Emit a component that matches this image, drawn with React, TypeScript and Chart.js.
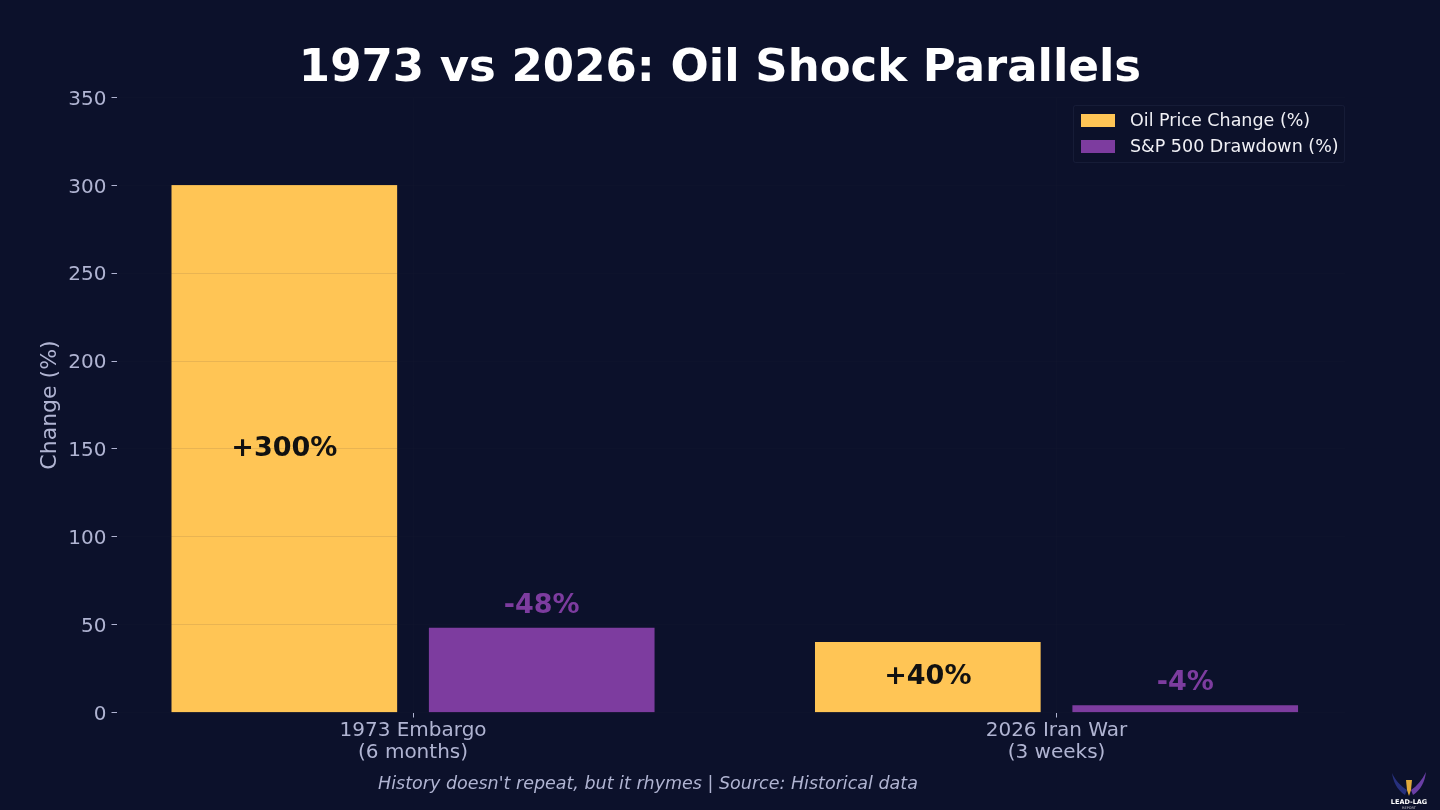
import { useEffect, useRef } from "react";
import { Chart, registerables } from "chart.js";

Chart.register(...registerables);

const categories = [["1973 Embargo", "(6 months)"], ["2026 Iran War", "(3 weeks)"]];
const oilChange = [300, 40];
const spDrawdown = [48, 4];
const oilLabels = ["+300%", "+40%"];
const spLabels = ["-48%", "-4%"];
const yTicks = [0, 50, 100, 150, 200, 250, 300, 350];

const BG = "#0c112b";
const GOLD = "#ffc555";
const PURPLE = "#7d3c9f";
const MUTED = "#b0b4d2";
const GRID = "rgba(40,44,60,0.1)";
const FONT = "'DejaVu Sans', sans-serif";

// small overlay: title, legend box, value labels and source line
const annotations = {
  id: "annotations",
  afterDatasetsDraw(chart: any) {
    const { ctx } = chart;
    ctx.save();
    ctx.textAlign = "center";
    ctx.textBaseline = "middle";

    ctx.font = `bold 45px ${FONT}`;
    ctx.fillStyle = "#ffffff";
    ctx.fillText("1973 vs 2026: Oil Shock Parallels", 720, 69.5);

    ctx.font = `bold 27px ${FONT}`;
    ctx.fillStyle = "#111111";
    chart.getDatasetMeta(0).data.forEach((bar: any, i: number) => {
      const mid = chart.scales.y.getPixelForValue(oilChange[i] / 2);
      ctx.fillText(oilLabels[i], bar.x, mid);
    });
    ctx.fillStyle = PURPLE;
    chart.getDatasetMeta(1).data.forEach((bar: any, i: number) => {
      ctx.fillText(spLabels[i], bar.x, bar.y - 22);
    });

    ctx.font = `italic 17.5px ${FONT}`;
    ctx.fillStyle = MUTED;
    ctx.fillText("History doesn't repeat, but it rhymes | Source: Historical data", 648, 784);

    // legend
    ctx.fillStyle = "rgba(12,17,43,0.8)";
    ctx.strokeStyle = "rgba(120,130,170,0.1)";
    ctx.lineWidth = 1;
    ctx.beginPath();
    ctx.roundRect(1073.5, 105.5, 271, 57, 2);
    ctx.fill();
    ctx.stroke();
    ctx.textAlign = "left";
    ctx.font = `17.5px ${FONT}`;
    chart.data.datasets.forEach((ds: any, i: number) => {
      const y = 120.5 + i * 26;
      ctx.fillStyle = ds.backgroundColor;
      ctx.fillRect(1081, y - 6.5, 34, 13);
      ctx.fillStyle = "#f0f0f5";
      ctx.fillText(ds.label, 1130, y + 0.5);
    });
    ctx.restore();
  },
};

export default function App() {
  const chartRef = useRef<HTMLCanvasElement>(null);

  useEffect(() => {
    if (!chartRef.current) return;

    const myChart = new Chart(chartRef.current, {
      type: "bar",
      data: {
        datasets: [
          {
            label: "Oil Price Change (%)",
            data: oilChange.map((v, i) => ({ x: i - 0.2, y: v })),
            backgroundColor: GOLD,
          },
          {
            label: "S&P 500 Drawdown (%)",
            data: spDrawdown.map((v, i) => ({ x: i + 0.2, y: v })),
            backgroundColor: PURPLE,
          },
        ],
      },
      plugins: [annotations],
      options: {
        animation: false,
        responsive: false,
        devicePixelRatio: 1,
        layout: { padding: { left: 0, right: 95, top: 97.5, bottom: 0 } },
        datasets: { bar: { grouped: false, barThickness: 225 } },
        plugins: {
          legend: { display: false },
          tooltip: { enabled: false },
        },
        scales: {
          x: {
            type: "linear",
            offset: false,
            min: -0.4608,
            max: 1.4483,
            afterFit: (scale: any) => { scale.height = 97.5; },
            afterBuildTicks: (scale: any) => {
              scale.ticks = categories.map((_, i) => ({ value: i }));
            },
            border: { display: false },
            grid: { color: GRID, z: 1, offset: false, tickColor: MUTED, tickLength: 5 },
            ticks: {
              color: MUTED,
              font: { family: FONT, size: 20, lineHeight: 1.1 },
              padding: 2,
              autoSkip: false,
              maxRotation: 0,
              callback: (value: any) => categories[value],
            },
          },
          y: {
            min: 0,
            max: 350,
            afterFit: (scale: any) => { scale.width = 116.5; },
            afterBuildTicks: (scale: any) => {
              scale.ticks = yTicks.map((value) => ({ value }));
            },
            border: { display: false },
            grid: { color: GRID, z: 1, tickColor: MUTED, tickLength: 5 },
            title: {
              display: true,
              text: "Change (%)",
              color: MUTED,
              font: { family: FONT, size: 22 },
              padding: { top: 37.5, bottom: 0 },
            },
            ticks: {
              color: MUTED,
              font: { family: FONT, size: 20 },
              padding: 5,
              labelOffset: 2,
            },
          },
        },
      },
    } as any);

    return () => {
      myChart.destroy();
    };
  }, []);

  return (
    <div style={{ position: "fixed", left: 0, top: 0, width: 1440, height: 810, background: BG }}>
      <canvas ref={chartRef} width={1440} height={810} />
      <svg width={44} height={40} viewBox="0 0 44 40" style={{ position: "absolute", left: 1387, top: 770 }}>
        <path d="M20 20 C14 16 8 10 5 3 C6 11 10 20 18 25 Z" fill="#27307c" />
        <path d="M24 20 C30 16 35 10 39 2 C38 11 34 20 26 25 Z" fill="#6a3ea5" />
        <path d="M19 10 L25 10 L24 20 L22 26 L20 20 Z" fill="#e0a93a" />
        <text x="22" y="34" textAnchor="middle" fill="#ffffff" fontFamily="'DejaVu Sans', sans-serif" fontWeight="bold" fontSize="6.5">LEAD-LAG</text>
        <text x="22" y="38.5" textAnchor="middle" fill="#c8c8d0" fontFamily="'DejaVu Sans', sans-serif" fontSize="3.5">REPORT</text>
      </svg>
    </div>
  );
}
